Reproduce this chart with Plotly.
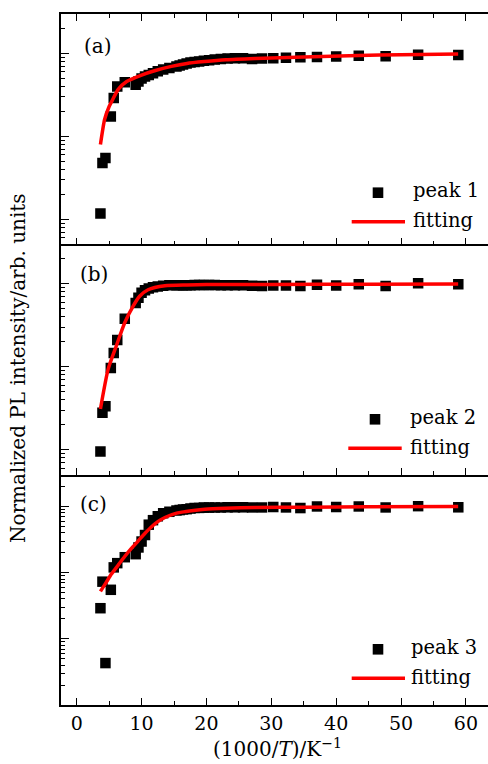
import plotly.graph_objects as go
from plotly.subplots import make_subplots

# ---------------- data ----------------
x_vals = [3.66, 3.97, 4.43, 5.26, 5.71, 6.25, 7.41, 9.09, 9.52, 10.0, 10.53, 11.11,
          11.76, 12.5, 13.33, 14.29, 15.38, 15.87, 16.39, 16.95, 17.54, 18.18, 18.87,
          19.61, 20.41, 21.28, 22.22, 23.26, 24.39, 25.64, 27.03, 28.57, 30.30, 32.26,
          34.48, 37.04, 40.0, 43.48, 47.62, 52.63, 58.82]

peak1 = [0.0118, 0.048, 0.055, 0.174, 0.29, 0.40, 0.45, 0.42, 0.46, 0.50, 0.53, 0.55,
         0.58, 0.61, 0.64, 0.67, 0.70, 0.72, 0.74, 0.76, 0.78, 0.79, 0.80,
         0.82, 0.83, 0.85, 0.86, 0.87, 0.88, 0.88, 0.86, 0.87, 0.88, 0.89,
         0.90, 0.91, 0.92, 0.94, 0.93, 0.97, 0.96]
peak2 = [0.0095, 0.028, 0.0335, 0.097, 0.147, 0.21, 0.38, 0.59, 0.68, 0.78, 0.84, 0.88,
         0.91, 0.93, 0.95, 0.96, 0.96, 0.96, 0.965, 0.965, 0.965, 0.97, 0.97,
         0.97, 0.97, 0.97, 0.965, 0.965, 0.96, 0.96, 0.95, 0.94, 0.954, 0.954,
         0.94, 0.973, 0.954, 0.99, 0.94, 1.015, 0.99]
peak3 = [0.029, 0.073, 0.0043, 0.055, 0.12, 0.139, 0.171, 0.19, 0.24, 0.295, 0.37, 0.53,
         0.62, 0.71, 0.79, 0.83, 0.87, 0.88, 0.90, 0.91, 0.93, 0.95, 0.95,
         0.96, 0.96, 0.965, 0.965, 0.97, 0.97, 0.97, 0.966, 0.966, 0.98, 0.966,
         0.945, 1.0, 0.98, 1.0, 0.966, 1.01, 0.97]

fit_x1 = [3.66, 4.3, 5.0, 5.35, 6.4, 7.7, 10.0, 12.0, 14.6, 17.0, 19.75, 23.0, 27.5, 35.0, 43.4, 50.0, 58.8]
fit_y1 = [0.08, 0.16, 0.23, 0.26, 0.37, 0.46, 0.55, 0.62, 0.70, 0.76, 0.80, 0.84, 0.87, 0.91, 0.945, 0.97, 0.99]

fit_x2 = [3.66, 4.84, 6.1, 7.4, 8.7, 9.7, 11.0, 13.6, 17.0, 20.0, 30.0, 45.0, 58.8]
fit_y2 = [0.031, 0.093, 0.178, 0.34, 0.54, 0.71, 0.85, 0.95, 0.97, 0.98, 0.985, 0.99, 0.995]

fit_x3 = [3.66, 4.5, 5.35, 6.4, 7.4, 8.4, 9.46, 10.5, 11.5, 12.5, 13.6, 14.8, 16.2, 18.0,
          19.75, 23.0, 27.5, 35.0, 45.0, 58.8]
fit_y3 = [0.052, 0.07, 0.095, 0.13, 0.175, 0.23, 0.30, 0.39, 0.49, 0.59, 0.68, 0.76, 0.82,
          0.87, 0.91, 0.94, 0.96, 0.975, 0.99, 1.0]

peak_names = ["peak 1", "peak 2", "peak 3"]
fit_name = "fitting"
panel_labels = ["(a)", "(b)", "(c)"]
x_tickvals = [0, 10, 20, 30, 40, 50, 60]
x_ticktext = ["0", "10", "20", "30", "40", "50", "60"]
x_title = "(1000/<i>T</i>)/K<sup>−1</sup>"
y_title = "Normalized PL intensity/arb. units"

# ---------------- layout geometry ----------------
W, H = 488, 764
ML, MR, MT, MB = 61, 0, 14, 59
PW, PH = W - ML - MR, H - MT - MB
FONT = "DejaVu Serif"
TICKFONT = "DejaVu Serif"


def px(xp):
    return (xp - ML) / PW


def py(yp):
    return (H - MB - yp) / PH


fig = make_subplots(rows=3, cols=1, shared_xaxes=True, vertical_spacing=0)

datasets = [(peak1, fit_x1, fit_y1), (peak2, fit_x2, fit_y2), (peak3, fit_x3, fit_y3)]
for i, (ys, fx, fy) in enumerate(datasets):
    r = i + 1
    fig.add_trace(go.Scatter(x=x_vals, y=ys, mode="markers", name=peak_names[i],
                             marker=dict(symbol="square", size=10.5, color="black",
                                         line=dict(width=0)),
                             showlegend=False), row=r, col=1)
    fig.add_trace(go.Scatter(x=fx, y=fy, mode="lines", name=fit_name,
                             line=dict(color="#ff0000", width=3.5, shape="spline", smoothing=0.6),
                             showlegend=False), row=r, col=1)

yranges = [[-2.301, 0.477], [-2.301, 0.477], [-3.0, 0.48]]
major_y = [0.001, 0.01, 0.1, 1]
minor_y = [k * 10 ** e for e in (-3, -2, -1, 0) for k in range(2, 10)]

for i in range(3):
    r = i + 1
    fig.update_yaxes(type="log", range=yranges[i], showline=True, linecolor="black",
                     linewidth=1.5, ticks="inside", ticklen=8, tickwidth=1.3,
                     tickcolor="black", tickmode="array", tickvals=major_y,
                     showticklabels=False, showgrid=False, zeroline=False,
                     minor=dict(tickmode="array", tickvals=minor_y, ticks="inside",
                                ticklen=4, tickwidth=1, tickcolor="black", showgrid=False),
                     row=r, col=1)
    fig.update_xaxes(range=[-2.42, 63.4], showline=True, linecolor="black", linewidth=1.5,
                     mirror="ticks" if r == 1 else False,
                     ticks="inside", ticklen=7, tickwidth=1.3, tickcolor="black",
                     tickmode="array", tickvals=x_tickvals, ticktext=x_ticktext,
                     showgrid=False, zeroline=False,
                     minor=dict(tickmode="linear", tick0=0, dtick=5, ticks="inside",
                                ticklen=4, tickwidth=1, tickcolor="black", showgrid=False),
                     tickfont=dict(family=TICKFONT, size=19, color="black"),
                     row=r, col=1)

# legends (drawn manually) and panel labels
leg = [
    dict(mk=(378, 192.7), t1=(411, 190), ln=(351.7, 405, 221.7), t2=(411, 221)),
    dict(mk=(375, 419.3), t1=(408, 417.5), ln=(348.3, 401.7, 448.3), t2=(408, 447.5)),
    dict(mk=(378, 649.3), t1=(409, 647.5), ln=(351.7, 405, 678.3), t2=(409, 677.5)),
]
lab_pos = [(98, 46), (93.5, 274), (93.5, 504)]
ms = 5.3
annotations = []
shapes = []
for i, L in enumerate(leg):
    mx, my = L["mk"]
    shapes.append(dict(type="rect", xref="paper", yref="paper",
                       x0=px(mx - ms), x1=px(mx + ms), y0=py(my + ms), y1=py(my - ms),
                       fillcolor="black", line=dict(width=0)))
    x0, x1, yl = L["ln"]
    shapes.append(dict(type="line", xref="paper", yref="paper",
                       x0=px(x0), x1=px(x1), y0=py(yl), y1=py(yl),
                       line=dict(color="#ff0000", width=3.5)))
    annotations.append(dict(text=peak_names[i], xref="paper", yref="paper",
                            x=px(L["t1"][0]), y=py(L["t1"][1]), xanchor="left",
                            yanchor="middle", showarrow=False,
                            font=dict(family=FONT, size=19.5, color="black")))
    annotations.append(dict(text=fit_name, xref="paper", yref="paper",
                            x=px(L["t2"][0]), y=py(L["t2"][1]), xanchor="left",
                            yanchor="middle", showarrow=False,
                            font=dict(family=FONT, size=19.5, color="black")))
    annotations.append(dict(text=panel_labels[i], xref="paper", yref="paper",
                            x=px(lab_pos[i][0]), y=py(lab_pos[i][1]), xanchor="center",
                            yanchor="middle", showarrow=False,
                            font=dict(family=FONT, size=20, color="black")))

annotations.append(dict(text=x_title, xref="paper", yref="paper", x=px(277), y=py(748),
                        xanchor="center", yanchor="middle", showarrow=False,
                        font=dict(family=FONT, size=20, color="black")))
annotations.append(dict(text=y_title, xref="paper", yref="paper", x=px(18), y=py(368),
                        xanchor="center", yanchor="middle", showarrow=False, textangle=-90,
                        font=dict(family=FONT, size=20, color="black")))

fig.update_layout(width=W, height=H, margin=dict(l=ML, r=MR, t=MT, b=MB, pad=0),
                  paper_bgcolor="white", plot_bgcolor="white", showlegend=False,
                  annotations=annotations, shapes=shapes,
                  font=dict(family=FONT, size=19, color="black"))

fig.write_html("out.html")
